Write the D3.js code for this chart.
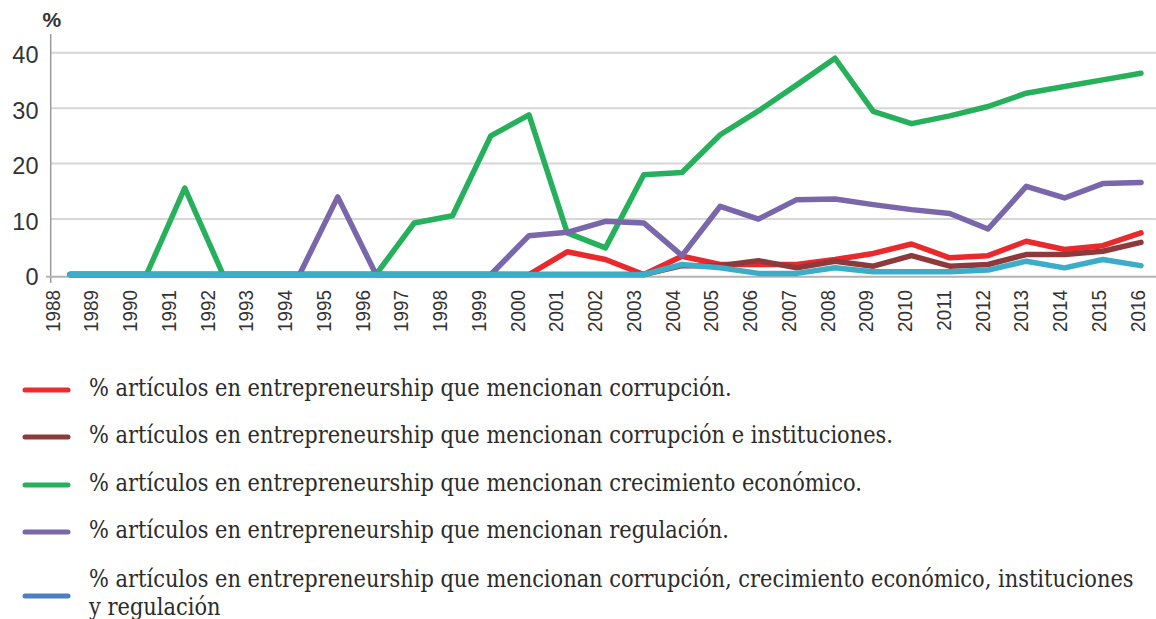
<!DOCTYPE html>
<html>
<head>
<meta charset="utf-8">
<script src="https://cdn.jsdelivr.net/npm/d3@7"></script>
<style>
  html, body { margin: 0; padding: 0; background: #ffffff; }
  svg { display: block; }
</style>
</head>
<body>
<svg id="chart" width="1156" height="619"></svg>
<script>
// ---- data ----
const years = [1988,1989,1990,1991,1992,1993,1994,1995,1996,1997,1998,1999,2000,2001,2002,2003,2004,2005,2006,2007,2008,2009,2010,2011,2012,2013,2014,2015,2016];
const yTicks = [0, 10, 20, 30, 40];

const corrupcion          = [0,0,0,0,0,0,0,0,0,0,0,0,0,4.1,2.7,0,3.3,1.8,1.8,1.8,2.7,3.8,5.5,3.0,3.4,6.0,4.5,5.2,7.5];
const corrupcionInstit    = [0,0,0,0,0,0,0,0,0,0,0,0,0,0,0,0,1.6,1.6,2.5,1.2,2.4,1.5,3.4,1.5,1.8,3.6,3.6,4.2,5.8];
const crecimiento         = [0,0,0,15.6,0,0,0,0,0,9.3,10.6,25.0,28.8,7.5,4.8,18.0,18.4,25.2,29.5,34.2,39.0,29.4,27.2,28.6,30.3,32.7,33.9,35.1,36.3];
const regulacion          = [0,0,0,0,0,0,0,14.0,0,0,0,0,7.0,7.6,9.6,9.3,3.4,12.3,10.0,13.5,13.6,12.6,11.7,11.0,8.2,15.9,13.8,16.4,16.6];
const todos               = [0,0,0,0,0,0,0,0,0,0,0,0,0,0,0,0,1.8,1.2,0.2,0.2,1.2,0.5,0.5,0.5,0.8,2.4,1.2,2.7,1.6];

const seriesNames = [
  "% artículos en entrepreneurship que mencionan corrupción.",
  "% artículos en entrepreneurship que mencionan corrupción e instituciones.",
  "% artículos en entrepreneurship que mencionan crecimiento económico.",
  "% artículos en entrepreneurship que mencionan regulación.",
  "% artículos en entrepreneurship que mencionan corrupción, crecimiento económico, instituciones|y regulación"
];
const seriesValues = [corrupcion, corrupcionInstit, crecimiento, regulacion, todos];
const lineColors   = ["#e9292c", "#8e3a3d", "#27b05b", "#7a66aa", "#3cadc9"];
const legendColors = ["#ea2c2f", "#8e3a3d", "#27b05b", "#7a66aa", "#4a7fc1"];

// ---- layout ----
const svg = d3.select("#chart");
const axisX = 50.7;
const y = d3.scaleLinear().domain([0, 40]).range([274.5, 52.7]);
const xData = d3.scalePoint().domain(years).range([70, 1141]);
const xLabel = d3.scalePoint().domain(years).range([52, 1137]);

// gridlines
svg.append("g").selectAll("line")
  .data(yTicks.filter(d => d > 0))
  .join("line")
  .attr("x1", axisX).attr("x2", 1156)
  .attr("y1", d => y(d)).attr("y2", d => y(d))
  .attr("stroke", "#d6d6d6").attr("stroke-width", 2);

// y tick labels
svg.append("g").selectAll("text")
  .data(yTicks)
  .join("text")
  .attr("x", 38.5)
  .attr("y", d => y(d) + 2.3)
  .attr("dy", "0.36em")
  .attr("text-anchor", "end")
  .attr("font-family", "'Liberation Sans', Arial, sans-serif")
  .attr("font-size", 23.5)
  .attr("fill", "#333")
  .text(d => d);

// "%" unit
svg.append("text")
  .attr("x", 42.5).attr("y", 27)
  .attr("font-family", "'Liberation Sans', Arial, sans-serif")
  .attr("font-size", 21).attr("font-weight", "bold")
  .attr("fill", "#333")
  .text("%");

// axes lines
svg.append("line")
  .attr("x1", axisX).attr("x2", axisX)
  .attr("y1", 34).attr("y2", 283)
  .attr("stroke", "#9a9a9a").attr("stroke-width", 1.5);
svg.append("line")
  .attr("x1", 46).attr("x2", 1156)
  .attr("y1", y(0) + 2.2).attr("y2", y(0) + 2.2)
  .attr("stroke", "#b3b3b3").attr("stroke-width", 2);

// x tick labels (rotated)
svg.append("g").selectAll("text")
  .data(years)
  .join("text")
  .attr("transform", d => `translate(${xLabel(d)},290) rotate(-90) scale(0.9,1)`)
  .attr("dy", "0.36em")
  .attr("text-anchor", "end")
  .attr("font-family", "'Liberation Sans', Arial, sans-serif")
  .attr("font-size", 21)
  .attr("fill", "#333")
  .text(d => d);

// lines
const line = d3.line()
  .x((d, i) => xData(years[i]))
  .y(d => y(d));

svg.append("g").selectAll("path")
  .data(seriesValues)
  .join("path")
  .attr("d", d => line(d))
  .attr("fill", "none")
  .attr("stroke", (d, i) => lineColors[i])
  .attr("stroke-width", 5.5)
  .attr("stroke-linejoin", "round")
  .attr("stroke-linecap", "round");

// legend
const legendBaselines = [396, 443, 491, 538, 587];
const lg = svg.append("g");
const legendFont = "'DejaVu Serif', 'Liberation Serif', serif";
const legendFontSize = 23.5;

// horizontal scale so the first line matches the reference width
const probe = lg.append("text")
  .attr("font-family", legendFont).attr("font-size", legendFontSize)
  .text(seriesNames[0]);
const wFull = probe.node().getComputedTextLength();
probe.remove();
const sx = 643 / wFull;

seriesNames.forEach((name, i) => {
  const parts = name.split("|");
  const base = legendBaselines[i];
  const iconY = parts.length > 1 ? base + 9 : base - 6;
  lg.append("line")
    .attr("x1", 25).attr("x2", 68)
    .attr("y1", iconY).attr("y2", iconY)
    .attr("stroke", legendColors[i])
    .attr("stroke-width", 5)
    .attr("stroke-linecap", "round");
  const t = lg.append("text")
    .attr("transform", `translate(89,${base}) scale(${sx},1)`)
    .attr("font-family", legendFont)
    .attr("font-size", legendFontSize)
    .attr("fill", "#2b2b2b");
  parts.forEach((p, j) => {
    t.append("tspan").attr("x", 0).attr("dy", j === 0 ? 0 : 28).text(p);
  });
});
</script>
</body>
</html>
